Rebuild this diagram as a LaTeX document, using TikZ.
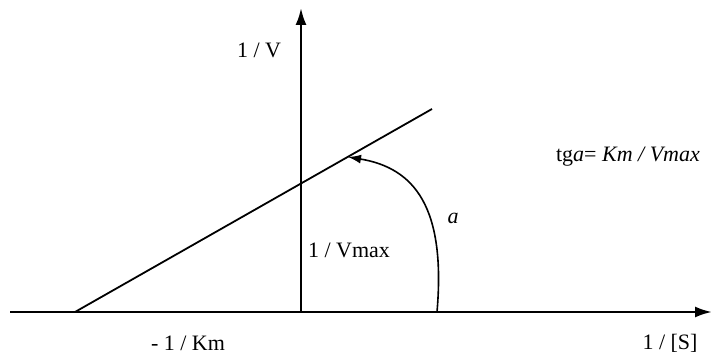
\documentclass[tikz,border=0pt]{standalone}
\usepackage{fontspec}
\setmainfont{Liberation Serif}
\usetikzlibrary{arrows.meta,positioning}

\begin{document}
\begin{tikzpicture}[x=1pt, y=1pt,
  lbl/.style={inner sep=0pt, font=\fontsize{22}{26}\selectfont},
  axis/.style={-{Latex[length=17pt,width=11pt]}, line width=2.4pt},
  plot/.style={line width=1.8pt},
  angarr/.style={-{Latex[length=13pt,width=9pt]}, line width=1.6pt},
]
\useasboundingbox (0,0) rectangle (714,358);

\coordinate (xstart) at (10,46);
\coordinate (xend) at (712,46);
\coordinate (orig) at (301,46);
\coordinate (ytop) at (301,350);
\coordinate (km) at (75,46);
\coordinate (lend) at (432,249);
\coordinate (angstart) at (437,46);
\coordinate (angend) at (348,201);

\node[lbl] (yname) at (259,308) {1 / V};
\node[lbl] (vmax) at (349,108) {1 / Vmax};
\node[lbl] (alpha) at (453,140) {\textit{a}};
\node[lbl] (tga) at (628,201) {tg\textit{a}= \textit{Km / Vmax}};
\node[lbl] (kmlbl) at (188,15) {- 1 / Km};
\node[lbl] (xname) at (670,15) {1 / [S]};

\draw[axis] (xstart) -- (xend);
\draw[axis] (orig) -- (ytop);
\draw[plot] (km) -- (lend);
\draw[angarr] (angstart) .. controls (446,150) and (415,190) .. (angend);

\end{tikzpicture}
\end{document}
